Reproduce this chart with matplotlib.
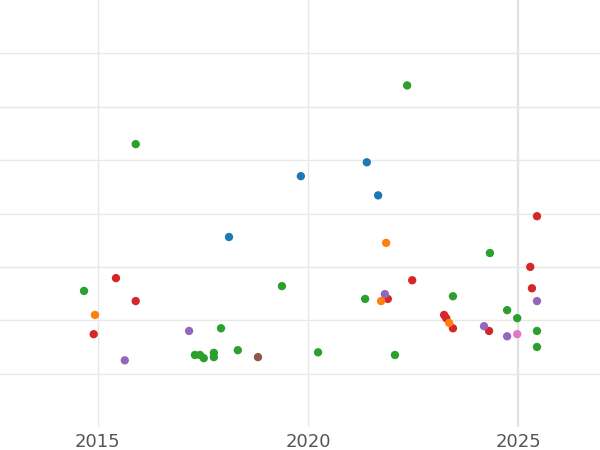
import matplotlib
matplotlib.use("Agg")
import matplotlib.pyplot as plt

# values (year, value)
green_x = [2014.67, 2015.90, 2022.36, 2019.38, 2017.93, 2017.31, 2017.43, 2017.52, 2017.76, 2017.76,
           2018.33, 2020.24, 2021.36, 2022.07, 2023.45, 2024.33, 2024.74, 2024.98, 2025.45, 2025.45]
green_y = [2.55, 5.30, 6.40, 2.64, 1.85, 1.35, 1.35, 1.29, 1.39, 1.31,
           1.44, 1.40, 2.40, 1.35, 2.45, 3.26, 2.19, 2.04, 1.80, 1.50]
blue_x = [2018.12, 2019.83, 2021.40, 2021.67]
blue_y = [3.56, 4.70, 4.96, 4.34]
red_x = [2015.43, 2015.90, 2014.90, 2021.90, 2022.48, 2023.24, 2023.29, 2023.45, 2024.31, 2025.29, 2025.33, 2025.45]
red_y = [2.79, 2.36, 1.74, 2.40, 2.75, 2.10, 2.04, 1.85, 1.80, 3.00, 2.60, 3.95]
orange_x = [2014.93, 2021.86, 2021.74, 2023.36]
orange_y = [2.10, 3.45, 2.36, 1.95]
purple_x = [2015.64, 2017.17, 2021.83, 2024.19, 2024.74, 2025.45]
purple_y = [1.25, 1.80, 2.49, 1.89, 1.70, 2.36]
brown_x = [2018.81]
brown_y = [1.31]
pink_x = [2024.98]
pink_y = [1.74]

series = [
    (green_x, green_y, "#2ca02c"),
    (blue_x, blue_y, "#1f77b4"),
    (red_x, red_y, "#d62728"),
    (orange_x, orange_y, "#ff7f0e"),
    (purple_x, purple_y, "#9467bd"),
    (brown_x, brown_y, "#8c564b"),
    (pink_x, pink_y, "#e377c2"),
]

fig = plt.figure(figsize=(6, 4.5), dpi=100)
ax = fig.add_axes([0, 0.051, 1, 0.949])

for xs, ys, c in series:
    ax.scatter(xs, ys, s=36, color=c, edgecolors="none", zorder=3)

ax.set_xlim(2012.67, 2026.95)
ax.set_ylim(0, 8)
ax.set_xticks([2015, 2020, 2025])
ax.set_yticks(range(1, 8))
ax.set_yticklabels([])
ax.grid(True, color="#e8e8e8", linewidth=1)
ax.axvline(2025, color="#dddddd", linewidth=1.5, zorder=1)
for s in ax.spines.values():
    s.set_visible(False)
ax.tick_params(length=0, labelsize=13, labelcolor="#555555", pad=4)
ax.tick_params(axis="y", left=False, labelleft=False)

fig.savefig("out.png")
